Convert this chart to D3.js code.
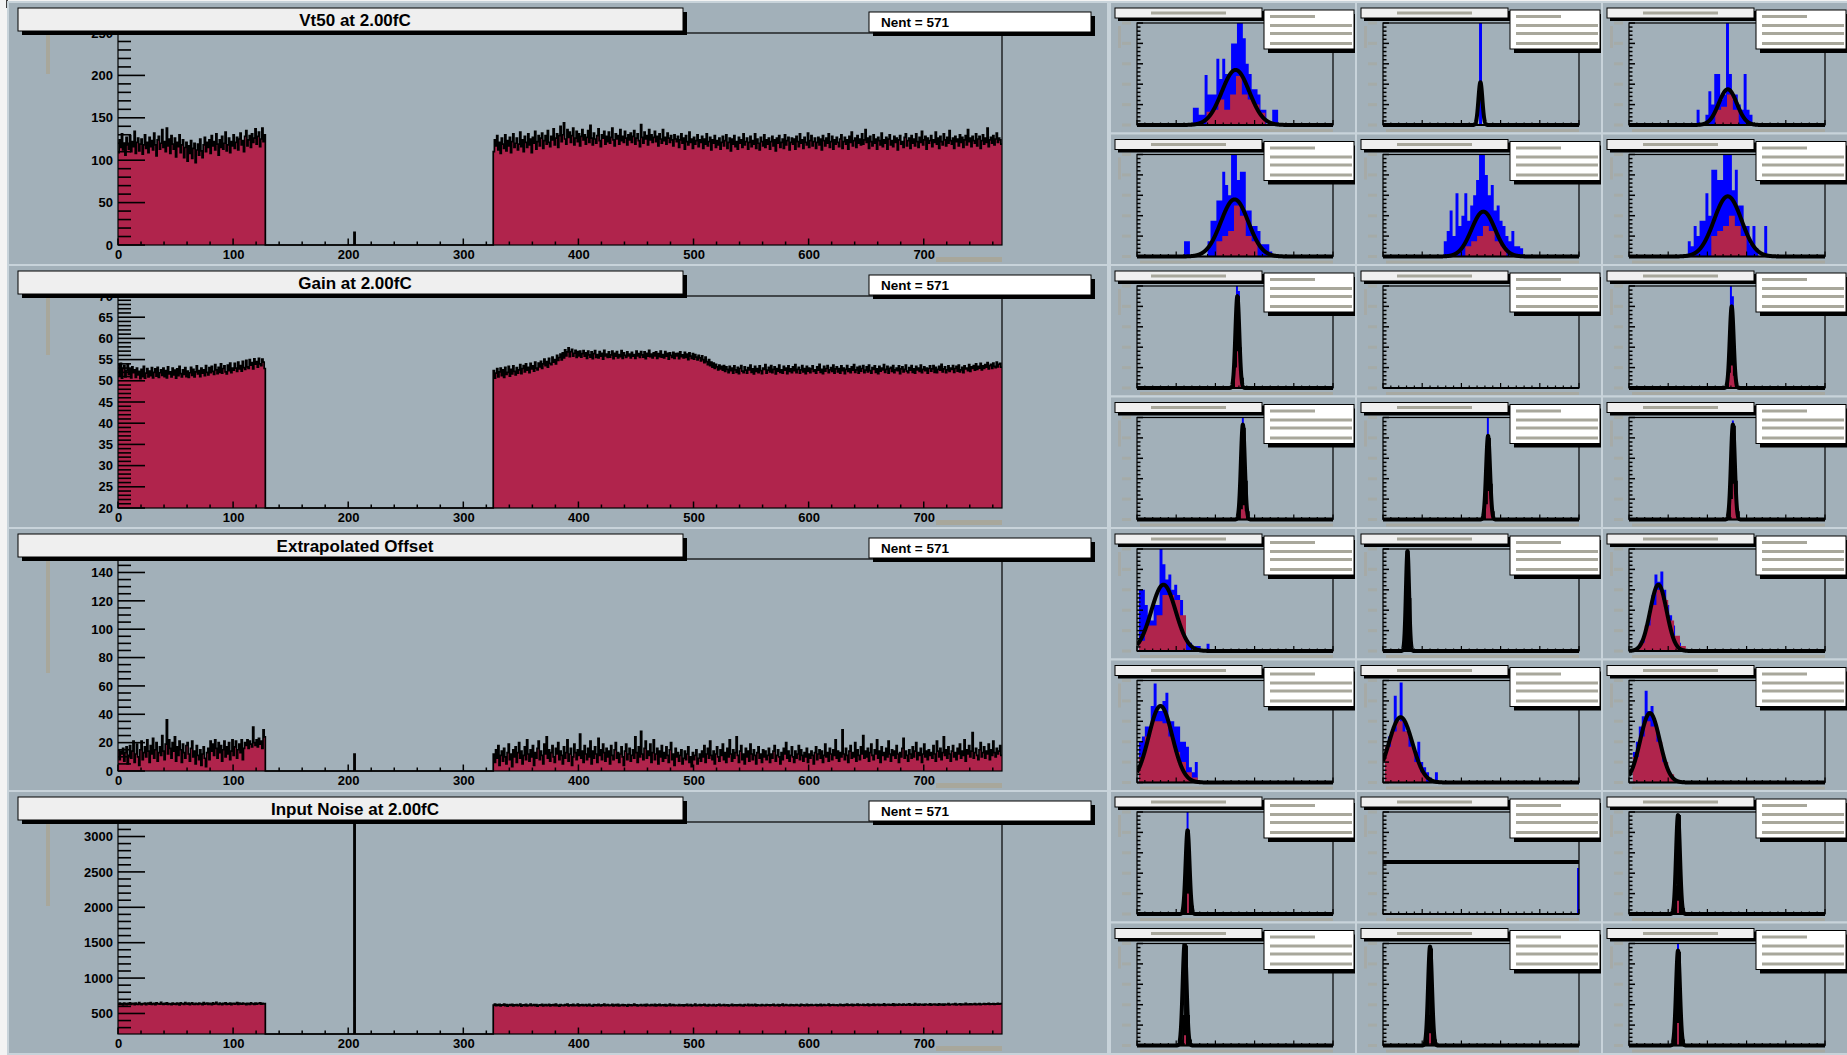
<!DOCTYPE html>
<html><head><meta charset="utf-8">
<script src="https://d3js.org/d3.v7.min.js"></script>
<style>
html,body{margin:0;padding:0;background:#f3f3f3;}
svg{display:block;}
text{font-family:"Liberation Sans",Arial,Helvetica,sans-serif;}
</style></head><body>
<svg id="c" width="1847" height="1055"></svg>
<script>
// ---------------- DATA (big per-channel histograms, channels 0..767) ----------------
const nChannels = 768;
const blockAStart = 0, blockBStart = 326, spikeChannel = 205;
const xTickLabels = [0,100,200,300,400,500,600,700];

const vt50A = [109,124,115,131,112,120,106,127,118,113,129,110,122,116,134,108,121,126,111,119,
125,107,118,130,114,121,109,127,116,123,112,132,118,105,124,128,113,120,136,115,
122,110,138,117,125,108,129,119,113,126,104,121,116,130,109,118,124,103,115,121,
99,117,108,123,102,114,120,97,112,119,106,125,111,103,118,127,110,121,115,124,
108,129,117,122,112,131,119,106,124,115,128,113,120,133,111,118,126,109,122,117,
130,114,121,127,112,125,132,118,123,110,128,135,117,124,129,115,131,121,126,137,
119,128,133,116,125,138,122,130];
const vt50B = [110,124,117,129,112,121,108,126,119,114,130,111,123,117,127,109,122,131,115,120,
126,112,119,133,116,124,110,128,121,115,131,118,125,109,127,120,134,113,122,129,
117,126,132,114,123,129,119,135,121,116,128,124,137,118,126,131,115,129,140,122,
130,144,125,119,136,127,133,121,129,138,118,126,134,122,131,117,128,136,124,130,
119,127,135,121,141,126,118,132,125,120,129,137,123,116,130,126,134,119,128,122,
133,120,127,138,124,117,131,125,129,119,136,123,128,121,134,126,118,130,124,132,
121,128,135,119,126,131,123,116,142,127,120,133,125,129,118,136,124,130,121,127,
134,122,128,117,131,125,120,136,123,127,119,132,126,121,129,124,117,130,125,122,
128,115,124,131,120,126,113,129,122,118,133,121,125,114,127,119,123,130,116,124,
121,128,114,125,119,131,117,122,127,112,124,120,129,115,123,118,126,113,121,128,
117,123,130,114,121,126,111,125,119,129,116,122,113,127,120,124,115,131,118,122,
126,113,121,128,116,123,119,131,114,125,120,112,127,122,117,130,115,124,119,126,
113,122,128,117,124,111,126,120,129,115,121,125,114,130,118,123,127,112,121,126,
119,125,113,128,122,116,131,120,124,114,127,121,118,132,115,123,129,117,122,126,
114,121,127,118,125,112,129,123,117,126,120,131,115,122,128,113,124,119,127,121,
116,125,130,114,122,127,119,124,113,128,121,133,117,123,126,115,129,120,125,118,
131,119,124,136,121,126,114,128,122,117,130,120,125,113,127,123,118,132,116,124,
120,127,113,125,130,118,123,116,128,121,126,112,124,129,119,122,115,127,131,117,
123,126,114,129,120,125,117,131,122,115,127,121,134,118,124,128,113,126,120,123,
129,116,124,121,133,119,126,114,128,122,118,131,124,117,127,120,135,123,119,126,
114,128,122,125,117,130,121,127,115,124,129,118,136,122,126,116,128,123,120,131,
117,125,128,114,123,130,119,126,121,138,116,124,127,120,129,118,125,132,121,126,
124,119];
const vt50Spike = 15;

const gainA = [53.8,51.2,54.1,50.6,52.9,53.6,50.9,52.4,54.0,51.5,52.8,50.7,53.3,51.9,52.6,50.8,53.0,51.4,52.2,50.5,
52.7,51.0,53.4,50.6,51.8,52.9,50.9,52.3,51.2,53.1,50.7,52.0,52.8,51.1,53.2,50.8,51.9,52.6,51.3,53.0,
51.0,52.4,50.7,53.3,51.6,52.1,50.9,53.0,51.4,52.5,50.6,52.8,51.2,53.4,51.7,50.9,52.6,51.5,53.1,51.0,
52.3,50.8,51.9,53.2,51.3,52.7,50.9,52.1,53.5,51.6,52.4,51.0,53.0,51.8,52.6,51.2,53.6,52.0,51.4,53.1,
51.9,53.4,52.2,51.5,53.8,52.6,51.7,53.2,52.0,54.0,51.8,52.9,53.5,52.1,51.6,53.7,52.4,54.2,51.9,53.0,
52.5,54.1,53.0,52.2,54.4,52.8,53.6,52.3,54.6,53.1,52.7,54.8,53.3,52.9,55.0,53.7,54.3,52.8,55.2,53.9,
54.5,53.2,55.3,54.0,53.6,55.1,54.4,52.9];
const gainB = [52.4,50.6,51.8,52.9,50.9,52.1,53.0,51.2,52.6,50.8,53.2,51.5,52.0,53.4,51.1,52.7,51.6,53.5,52.2,51.4,
53.1,51.8,52.6,53.8,51.7,52.9,53.6,52.1,54.0,52.5,53.2,51.9,54.1,52.8,53.5,52.3,54.4,53.0,52.6,54.2,
53.3,54.6,52.9,54.0,55.1,53.6,54.5,53.2,55.3,54.1,53.8,55.6,54.4,55.0,54.0,56.0,54.8,55.5,56.3,54.9,
56.6,55.4,57.3,55.9,56.8,57.8,55.7,56.9,57.4,55.8,56.5,57.2,55.5,56.9,55.9,57.0,55.6,56.4,57.1,55.8,
56.6,55.3,57.0,56.1,55.6,56.8,55.2,56.4,57.1,55.5,56.2,55.4,56.9,55.8,56.5,55.1,57.2,55.9,56.3,55.5,
56.8,55.6,56.1,57.0,55.2,56.5,55.8,56.9,55.4,56.2,55.7,57.1,55.3,56.6,56.0,55.5,56.8,55.9,56.3,55.4,
56.7,55.8,56.2,55.3,57.0,55.9,56.4,55.5,56.9,56.1,55.6,56.8,55.2,56.5,55.8,57.2,55.7,56.3,55.4,56.6,
55.9,56.8,55.3,56.4,55.7,57.0,55.6,56.2,55.4,56.9,55.8,56.5,55.1,56.6,56.0,55.5,56.7,55.3,56.4,55.9,
56.5,55.2,56.8,55.7,56.1,55.4,56.7,55.5,56.3,55.0,56.6,55.8,55.3,56.4,55.1,56.2,55.6,54.9,56.0,55.4,
54.7,55.9,55.0,54.3,55.6,54.5,53.8,55.0,53.6,54.4,53.2,54.2,52.9,53.9,53.3,52.6,53.7,52.8,53.4,52.5,
53.6,52.2,53.3,52.7,51.9,53.4,52.4,53.0,51.8,53.5,52.6,52.0,53.2,51.7,52.9,53.6,52.3,51.9,53.3,52.5,
51.8,53.1,52.6,53.7,52.0,52.8,51.6,53.4,52.2,52.9,51.9,53.5,52.4,51.7,53.0,52.7,53.8,51.8,52.5,53.2,
52.1,53.6,51.9,52.7,53.3,51.6,52.9,52.3,53.7,52.0,52.6,51.8,53.4,52.5,53.0,51.7,53.5,52.2,52.8,51.9,
53.3,52.4,53.8,51.9,52.7,53.2,51.8,52.6,53.6,52.1,52.9,51.7,53.4,52.3,53.0,51.9,52.8,53.5,52.2,52.6,
51.8,53.3,52.5,53.9,52.0,52.7,51.7,53.4,52.3,52.9,53.6,51.9,52.6,53.1,52.2,53.7,51.8,52.8,53.3,52.1,
52.9,51.8,53.5,52.4,53.0,51.7,52.7,53.6,52.2,52.8,51.9,53.3,52.5,53.8,52.0,52.6,53.2,51.8,53.4,52.3,
52.9,53.6,51.9,52.5,53.3,52.1,53.7,52.4,51.8,53.1,52.7,53.5,52.0,52.8,51.7,53.4,52.3,53.0,52.6,53.8,
52.0,52.7,53.4,51.8,52.9,53.2,52.2,53.6,51.9,52.6,53.0,52.4,53.5,51.7,52.8,53.3,52.1,52.7,53.7,52.3,
51.9,53.1,52.5,53.6,52.0,52.8,51.8,53.4,52.6,53.0,52.2,53.7,51.9,52.7,53.3,52.4,53.0,51.8,52.9,53.5,
52.3,52.8,53.6,52.0,53.2,51.9,52.7,53.4,52.5,53.9,52.1,52.8,53.3,51.9,52.6,53.5,52.2,53.0,52.7,53.6,
52.0,52.9,53.4,52.3,53.7,52.1,52.6,53.2,51.9,53.5,52.8,53.0,52.4,53.8,52.2,53.3,52.9,53.6,52.5,54.0,
52.7,53.4,53.0,54.1,52.6,53.5,52.9,53.8,53.2,54.3,52.8,53.6,53.9,52.9,54.2,53.4,53.1,54.4,53.3,53.9,
54.1,53.2];
const gainSpike = null;

const offA = [15,8,14,12,16,7,13,17,5,11,18,9,14,21,6,12,19,10,4,15,
21,8,13,17,10,22,14,6,18,12,23,9,15,20,7,13,17,11,25,14,
8,19,36,12,22,16,9,20,14,24,7,17,11,21,15,6,19,13,9,18,
20,12,7,16,21,10,14,5,18,11,8,15,4,12,17,9,3,13,16,8,
21,14,19,11,22,16,9,20,13,18,7,15,21,10,17,12,20,8,14,22,
11,17,21,9,15,19,13,22,8,16,20,18,22,16,21,19,17,31,20,18,
22,17,23,19,21,16,29,24];
const offB = [12,6,15,9,18,4,11,14,7,16,10,5,13,19,8,12,3,15,10,17,
6,13,20,9,14,5,11,17,8,22,12,7,15,10,18,4,13,9,16,21,
8,14,11,5,19,12,24,9,15,7,13,18,10,6,16,12,20,8,14,11,
5,17,9,13,22,7,12,16,4,10,19,13,8,15,11,26,9,14,6,18,
12,8,16,10,21,5,14,9,17,12,6,23,11,15,8,19,13,7,16,10,
14,5,18,11,8,15,20,9,13,6,12,17,10,4,14,19,8,12,16,7,
11,15,9,24,13,6,17,10,28,12,8,16,21,9,14,11,19,6,13,22,
8,12,16,5,14,10,18,7,13,9,17,11,6,15,20,8,12,4,16,10,
13,7,11,15,5,9,14,8,12,17,6,10,3,13,8,11,15,5,9,12,
7,14,10,18,6,12,16,9,21,11,8,14,5,12,17,10,7,15,11,19,
8,13,6,16,10,22,12,7,15,9,13,24,11,6,14,18,8,12,5,16,
10,14,7,19,12,8,15,11,5,13,17,9,12,6,15,10,14,8,11,16,
6,12,9,14,18,7,11,15,10,5,13,8,16,12,20,9,14,7,11,17,
10,6,14,9,12,18,8,15,11,7,13,10,16,6,12,9,14,11,5,13,
17,8,12,15,9,14,6,11,19,10,13,7,16,12,8,15,11,22,9,14,
7,13,10,29,12,8,16,11,6,14,18,9,13,10,20,7,15,11,8,17,
12,25,9,14,10,16,7,13,19,11,8,15,12,22,9,14,6,17,11,13,
8,16,10,21,12,7,15,11,14,9,18,12,6,13,10,16,23,9,14,11,
7,15,12,9,17,10,14,20,8,13,11,16,6,12,19,10,14,8,15,11,
13,9,18,12,7,21,14,10,16,8,13,24,11,15,9,17,12,7,14,18,
10,13,8,16,12,19,9,14,11,22,7,15,12,18,10,14,27,9,13,16,
11,8,15,20,10,13,17,9,14,12,19,8,15,11,21,13,10,16,12,14,
18,11];
const offSpike = 12;

const noiseA = [632,645,628,640,622,648,636,625,642,630,651,627,638,644,624,646,633,629,655,637,
626,641,634,648,623,639,645,630,652,628,636,643,625,649,634,640,631,658,637,627,
644,632,650,629,641,636,624,647,633,639,628,645,637,622,649,634,641,627,653,638,
630,646,624,639,651,633,627,644,636,629,648,635,641,626,654,632,638,645,628,643,
636,625,649,631,640,657,634,628,646,637,623,642,635,650,629,641,633,647,626,638,
644,631,639,652,627,645,636,630,648,634,641,625,643,637,629,651,635,640,628,646,
633,642,638,649,631,644,636,640];
const noiseB = [618,632,609,625,614,630,606,621,616,634,611,627,603,619,624,613,629,608,622,615,
626,610,619,631,605,617,623,612,628,607,620,614,633,609,618,625,611,627,604,616,
622,613,630,608,619,626,611,617,629,606,621,615,624,610,632,612,618,605,627,614,
620,609,625,616,631,607,618,623,612,628,610,619,615,634,606,622,613,626,611,617,
624,608,619,630,612,616,605,627,614,621,610,629,617,606,623,615,631,609,618,625,
611,620,613,628,607,617,624,612,630,608,619,614,626,610,621,616,605,627,613,622,
609,618,631,615,622,606,620,613,627,611,616,624,608,629,614,619,610,625,617,612,
628,606,621,615,630,610,618,623,612,626,608,619,614,632,611,617,624,609,620,616,
612,627,610,618,623,607,621,614,629,611,616,625,608,620,613,631,610,619,615,624,
609,622,616,628,612,618,606,624,613,620,611,627,615,608,621,617,630,612,619,614,
625,610,618,622,607,620,614,629,611,617,623,609,621,615,626,612,619,608,624,616,
613,628,610,619,624,611,617,630,608,622,615,620,612,626,614,618,609,627,616,621,
610,623,617,629,612,619,614,625,608,621,616,631,611,618,624,613,620,609,627,615,
622,611,619,626,614,620,608,628,616,623,612,618,630,610,621,615,625,613,619,617,
624,612,621,615,629,610,618,626,613,620,616,631,611,622,617,627,614,619,623,612,
620,628,615,622,611,626,618,633,614,621,616,629,612,624,619,617,631,613,625,620,
616,630,614,623,619,634,612,626,621,617,632,615,624,620,628,613,627,622,618,635,
615,626,621,630,617,624,619,636,614,628,622,618,633,620,626,616,631,623,619,629,
621,635,617,627,624,619,638,622,629,616,632,625,620,630,618,634,623,627,621,637,
619,628,624,633,621,630,617,636,625,622,631,619,634,626,623,639,620,629,627,632,
624,640,622,630,627,635,621,633,628,625,642,623,631,626,637,624,632,629,638,625,
634,628,641,626,633,630,639,627,636,631,644,629,635,632,640,627,637,633,643,630,
636,641];
const noiseSpike = 3500;

const bigTitles = ["Vt50 at 2.00fC","Gain at 2.00fC","Extrapolated Offset","Input Noise at 2.00fC"];
const bigEntries = "Nent = 571";
const bigYDomains = [[0,250],[20,70],[0,149.5],[210,3205]];
const bigYMajor = [50,5,20,500];
const bigYMinor = [10,1,5,100];

// ---------------- DATA (small per-chip distributions, normalised 0..100 axes) ----------------
// order: row-major, 3 columns x 8 rows (Vt50 chips 0-5, Gain, Offset, Noise)
const smallBlue = [
 {x0:28.5,w:1.5,v:[17,17,10,10,49,30,30,30,65,45,65,50,50,80,80,105,105,85,60,50,35,35,30,15,15,0,0,15,15,0]},
 {x0:49,w:1.5,v:[110]},
 {x0:34.5,w:1.5,v:[15,0,0,10,33,20,50,50,25,30,110,50,25,30,20,15,50,15,10]},
 {x0:24,w:1.5,v:[15,15,0,0,0,0,0,0,15,35,35,55,55,83,70,60,110,105,75,83,83,45,45,30,30,25,12,12,12,5]},
 {x0:31,w:1.5,v:[15,25,45,20,62,30,40,62,35,50,60,75,100,110,80,60,70,45,50,35,30,20,15,25,10,10,8]},
 {x0:30,w:1.5,v:[15,10,30,20,35,35,62,40,85,85,75,75,105,110,105,65,85,50,50,30,30,12,30,8,0,0,30]},
 {x0:50.5,w:1,v:[100,95]},
 null,
 {x0:51.5,w:1,v:[105,90]},
 {x0:53.5,w:1,v:[100]},
 {x0:53,w:1,v:[100,70]},
 {x0:52.5,w:1,v:[97]},
 {x0:1,w:1.5,v:[60,60,45,35,30,45,45,100,85,70,75,60,65,55,50,25,10,8,0,5,5,0,0,7]},
 null,
 {x0:4,w:1.5,v:[5,10,15,25,35,55,75,68,78,60,45,35,25,12,8,5]},
 {x0:1,w:1.5,v:[40,45,55,55,75,97,70,70,80,88,60,60,55,55,40,40,35,15,10,20]},
 {x0:1,w:1.5,v:[30,45,40,85,55,98,60,50,45,35,30,40,20,15,10,5,0,10]},
 {x0:2,w:1.5,v:[30,40,55,65,90,70,75,60,50,35,25,15,10,5]},
 {x0:25.3,w:1,v:[100]},
 {x0:99,w:1,v:[45]},
 null,
 null,
 null,
 {x0:24.5,w:1,v:[100]}
];
const smallBlack = [
 null,null,null,null,null,null,
 {x0:48.5,w:1,v:[10,40,90,90,40,10]},
 null,
 {x0:49.5,w:1,v:[8,35,80,78,35,8]},
 {x0:51.5,w:1,v:[8,40,93,90,38,8]},
 {x0:51,w:1,v:[8,35,82,80,35,8]},
 {x0:50.5,w:1,v:[8,40,93,92,38,8]},
 null,
 {x0:10.5,w:1,v:[14,98,98,52]},
 null,null,null,null,
 {x0:23,w:1,v:[8,30,80,82,30,8]},
 null,
 {x0:22.5,w:1,v:[6,28,95,97,30,6]},
 {x0:22,w:1,v:[6,30,100,98,30,6]},
 {x0:21.5,w:1,v:[6,30,97,95,28,6]},
 {x0:22.5,w:1,v:[6,30,93,92,28,6]}
];
const smallRed = [
 {x0:35.5,w:3,v:[13,15,25,15,30,48,30,25,20,12]},
 null,
 {x0:44,w:3,v:[15,18,30,15]},
 {x0:40.5,w:3,v:[15,20,25,50,40,20,15]},
 {x0:42,w:3,v:[10,15,20,30,25,15,10]},
 {x0:42,w:3,v:[20,25,30,40,30,20]},
 {x0:50,w:1,v:[20,36,25]},
 null,
 {x0:51,w:1,v:[15,22,12]},
 {x0:53,w:1,v:[10,14,8]},
 {x0:52.5,w:1,v:[15,28,20]},
 {x0:52,w:1,v:[20,35,25]},
 {x0:1,w:3,v:[10,25,25,35,55,55,50,35]},
 null,
 {x0:5,w:3,v:[8,25,45,60,50,30,15,5]},
 {x0:1,w:3,v:[25,45,60,60,58,45,30,20,10,5]},
 {x0:1,w:3,v:[35,50,60,50,35,20,10]},
 {x0:2,w:3,v:[25,45,60,55,40,20,8]},
 {x0:25.5,w:1,v:[20]},
 null,
 {x0:24.5,w:1,v:[13]},
 {x0:24,w:1,v:[10]},
 {x0:23.5,w:1,v:[12]},
 {x0:24.5,w:1,v:[22]}
];
// gaussian fit parameters [amplitude, mean, sigma]; [level,null,null] = constant
const smallFit = [
 [54,50.3,7],[42,49.7,1.0],[35,50.4,4.6],[56,49.8,7],[44,51.2,6],[59,50.4,7],
 [90,51.2,1.0],null,[80,52.4,1.0],[93,54,1.0],[82,53.6,1.0],[93,53,1.0],
 [65,13.5,6.2],[98,12.5,0.8],[65,15,4.2],[75,12,6],[64,9,6],[68,10.7,5],
 [82,25.8,1.0],[51,null,null],[97,25,1.0],[100,24.3,1.0],[97,24,1.0],[93,25,1.0]
];
const smallYTitleLen = [22,22,22,22,22,22, 26,26,26,26,26,26, 24,24,24,24,24,24, 22,22,22,22,22,22];

// ---------------- STYLE ----------------
const BG = "#a2b0b9", SEP = "#c8d3da", RED = "#b0244c", BLUE = "#0000ff", GREYBAR = "#a8a79b";
const bigYTitleLen = [39,57,112,82];

const svg = d3.select("#c");
svg.append("rect").attr("width",1847).attr("height",1055).attr("fill","#f3f3f3");
svg.append("line").attr("x1",7).attr("x2",7).attr("y1",0).attr("y2",8).attr("stroke","#000").attr("stroke-width",1.5);
const defs = svg.append("defs");
let clipN = 0;
function clip(x,y,w,h){
  const id = "cp"+(clipN++);
  defs.append("clipPath").attr("id",id).append("rect").attr("x",x).attr("y",y).attr("width",w).attr("height",h);
  return "url(#"+id+")";
}
function pave(g,x,y,w,h,fill,sh){
  g.append("rect").attr("x",x+sh).attr("y",y+sh).attr("width",w).attr("height",h).attr("fill","#000");
  g.append("rect").attr("x",x).attr("y",y).attr("width",w).attr("height",h).attr("fill",fill).attr("stroke","#000").attr("stroke-width",1);
}

// ---------------- BIG PANELS ----------------
const bigBlocks = [[vt50A,vt50B,vt50Spike],[gainA,gainB,gainSpike],[offA,offB,offSpike],[noiseA,noiseB,noiseSpike]];

bigBlocks.forEach((blk,i)=>{
  const [A,B,spike] = blk;
  const y0 = 2 + i*263, px = 8;
  const g = svg.append("g");
  g.append("rect").attr("x",px).attr("y",y0).attr("width",1100).attr("height",263)
    .attr("fill",BG).attr("stroke",SEP).attr("stroke-width",2);
  const fx0 = 118, fx1 = 1002, fy0 = y0+31, fy1 = y0+243;
  const dom = bigYDomains[i];
  const x = d3.scaleLinear().domain([0,nChannels]).range([fx0,fx1]);
  const y = d3.scaleLinear().domain(dom).range([fy1,fy0]);
  const cp = clip(fx0,fy0,fx1-fx0,fy1-fy0+1);
  const hg = g.append("g").attr("clip-path",cp);

  const segs = [[blockAStart,A],[blockBStart,B]];
  if(spike!=null) segs.push([spikeChannel,[spike]]);
  const area = d3.area().x(d=>x(d[0])).y0(fy1).y1(d=>y(d[1])).curve(d3.curveStepAfter);
  segs.forEach(([s,vals])=>{
    const pts = vals.map((v,k)=>[s+k,v]);
    pts.push([s+vals.length, vals[vals.length-1]]);
    hg.append("path").attr("d",area(pts)).attr("fill",RED);
  });
  // full outline
  const full = new Array(nChannels).fill(dom[0]);
  A.forEach((v,k)=>full[blockAStart+k]=v);
  B.forEach((v,k)=>full[blockBStart+k]=v);
  if(spike!=null) full[spikeChannel]=spike;
  const lpts = full.map((v,k)=>[k,v]); lpts.push([nChannels, full[nChannels-1]]);
  hg.append("path").attr("d",d3.line().x(d=>x(d[0])).y(d=>y(d[1])).curve(d3.curveStepAfter)(lpts))
    .attr("fill","none").attr("stroke","#000").attr("stroke-width",1.7);

  // frame
  g.append("rect").attr("x",fx0).attr("y",fy0).attr("width",fx1-fx0).attr("height",fy1-fy0)
    .attr("fill","none").attr("stroke","#000").attr("stroke-width",1.2);

  // y ticks (inside)
  const maj = bigYMajor[i], mn = bigYMinor[i];
  const yMaj = d3.range(Math.ceil(dom[0]/maj)*maj, dom[1]+1e-9, maj);
  const yMin = d3.range(Math.ceil(dom[0]/mn)*mn, dom[1]+1e-9, mn);
  g.selectAll(null).data(yMin).enter().append("line")
    .attr("x1",fx0).attr("x2",d=> (Math.abs(d/maj-Math.round(d/maj))<1e-6)? fx0+27 : fx0+13)
    .attr("y1",d=>y(d)).attr("y2",d=>y(d)).attr("stroke","#000").attr("stroke-width",1.6);
  const ya = d3.axisLeft(y).tickValues(yMaj).tickSize(0).tickPadding(5).tickFormat(d3.format("d"));
  const yg = g.append("g").attr("transform","translate("+fx0+",0)").call(ya);
  yg.select(".domain").remove();
  yg.selectAll("text").attr("font-size",13).attr("font-weight","bold").attr("fill","#000")
    .attr("font-family","Liberation Sans, Arial, sans-serif");

  // x ticks (inside)
  const xMin = d3.range(0, nChannels+1e-9, 20);
  g.selectAll(null).data(xMin).enter().append("line")
    .attr("x1",d=>x(d)).attr("x2",d=>x(d)).attr("y1",fy1)
    .attr("y2",d=> d%100===0 ? fy1-6.5 : fy1-3.5).attr("stroke","#000").attr("stroke-width",1.5);
  const xa = d3.axisBottom(x).tickValues(xTickLabels).tickSize(0).tickPadding(5).tickFormat(d3.format("d"));
  const xg = g.append("g").attr("transform","translate(0,"+fy1+")").call(xa);
  xg.select(".domain").remove();
  xg.selectAll("text").attr("font-size",13).attr("font-weight","bold").attr("fill","#000")
    .attr("font-family","Liberation Sans, Arial, sans-serif");

  // hidden axis titles (greyed)
  g.append("rect").attr("x",46).attr("y",y0+33).attr("width",4).attr("height",bigYTitleLen[i]).attr("fill",GREYBAR);
  g.append("rect").attr("x",936).attr("y",y0+255).attr("width",66).attr("height",5).attr("fill",GREYBAR);

  // title + stats
  pave(g,18,y0+6,665,23,"#efefef",4);
  g.append("text").attr("x",355).attr("y",y0+24).attr("text-anchor","middle")
    .attr("font-size",17).attr("font-weight","bold").text(bigTitles[i]);
  pave(g,869,y0+10,222,20,"#ffffff",4);
  g.append("text").attr("x",881).attr("y",y0+25).attr("font-size",13.5).attr("font-weight","bold").text(bigEntries);
});

// ---------------- SMALL PANELS ----------------
function drawHist(g,x,y,h,fill){
  if(!h) return;
  const pts = h.v.map((v,k)=>[h.x0+k*h.w, v]);
  pts.push([h.x0+h.v.length*h.w, h.v[h.v.length-1]]);
  g.append("path").attr("d",d3.area().x(d=>x(d[0])).y0(y(0)).y1(d=>y(d[1])).curve(d3.curveStepAfter)(pts))
    .attr("fill",fill);
}
const fitXs = d3.range(0,100.0001,0.05);

for(let idx=0; idx<24; idx++){
  const c = idx%3, r = Math.floor(idx/3);
  const x0 = 1110 + c*246, y0 = 2 + r*131.5;
  const g = svg.append("g");
  g.append("rect").attr("x",x0).attr("y",y0).attr("width",246).attr("height",131.5)
    .attr("fill",BG).attr("stroke",SEP).attr("stroke-width",2);
  const fx0 = x0+27, fx1 = x0+223, fy0 = y0+21, fy1 = y0+123;
  const x = d3.scaleLinear().domain([0,100]).range([fx0,fx1]);
  const y = d3.scaleLinear().domain([0,100]).range([fy1,fy0]);
  const cp = clip(fx0,fy0,fx1-fx0,fy1-fy0+4);
  const hg = g.append("g").attr("clip-path",cp);
  drawHist(hg,x,y,smallBlue[idx],BLUE);
  drawHist(hg,x,y,smallBlack[idx],"#000");
  drawHist(hg,x,y,smallRed[idx],RED);
  const f = smallFit[idx];
  if(f){
    const fn = f[1]==null ? (()=>f[0]) : (t=>f[0]*Math.exp(-0.5*Math.pow((t-f[1])/f[2],2)));
    hg.append("path").attr("d",d3.line().x(t=>x(t)).y(t=>y(fn(t)))(fitXs))
      .attr("fill","none").attr("stroke","#000").attr("stroke-width",4).attr("stroke-linejoin","round");
  }
  // frame
  g.append("rect").attr("x",fx0).attr("y",fy0).attr("width",fx1-fx0).attr("height",fy1-fy0)
    .attr("fill","none").attr("stroke","#000").attr("stroke-width",1.2);
  g.append("line").attr("x1",fx0).attr("x2",fx1).attr("y1",fy1).attr("y2",fy1).attr("stroke","#000").attr("stroke-width",2);
  // y ticks
  const yt = d3.range(0,100.001,4);
  g.selectAll(null).data(yt).enter().append("line")
    .attr("x1",fx0).attr("x2",d=> d%20===0 ? fx0+6 : fx0+3.5)
    .attr("y1",d=>y(d)).attr("y2",d=>y(d)).attr("stroke","#000").attr("stroke-width",1.5);
  g.selectAll(null).data(yt.filter(d=>d%20===0)).enter().append("rect")
    .attr("x",fx0-15).attr("y",d=>y(d)-1.5).attr("width",9).attr("height",3)
    .attr("fill",GREYBAR).attr("opacity",0.55);
  // x ticks
  const xt = d3.range(0,100.001,4);
  g.selectAll(null).data(xt).enter().append("line")
    .attr("x1",d=>x(d)).attr("x2",d=>x(d)).attr("y1",fy1)
    .attr("y2",d=> d%20===0 ? fy1-5 : fy1-2.5).attr("stroke","#000").attr("stroke-width",1.2);
  // hidden labels / titles
  g.append("rect").attr("x",x0+8).attr("y",y0+24).attr("width",3).attr("height",smallYTitleLen[idx])
    .attr("fill",GREYBAR).attr("opacity",0.6);
  g.append("rect").attr("x",fx0+3).attr("y",y0+127).attr("width",fx1-fx0-3).attr("height",3)
    .attr("fill",GREYBAR).attr("opacity",0.75);
  // title pave
  pave(g,x0+5,y0+6,147,10,"#efefef",3);
  g.append("rect").attr("x",x0+41).attr("y",y0+9.5).attr("width",75).attr("height",3).attr("fill",GREYBAR);
  // stats pave
  pave(g,x0+154,y0+8,90,39,"#ffffff",4);
  g.append("rect").attr("x",x0+160).attr("y",y0+13).attr("width",45).attr("height",3).attr("fill",GREYBAR);
  [22,30,40].forEach(dy=>{
    g.append("rect").attr("x",x0+160).attr("y",y0+dy).attr("width",82).attr("height",3).attr("fill",GREYBAR);
  });
}
</script>
</body></html>
